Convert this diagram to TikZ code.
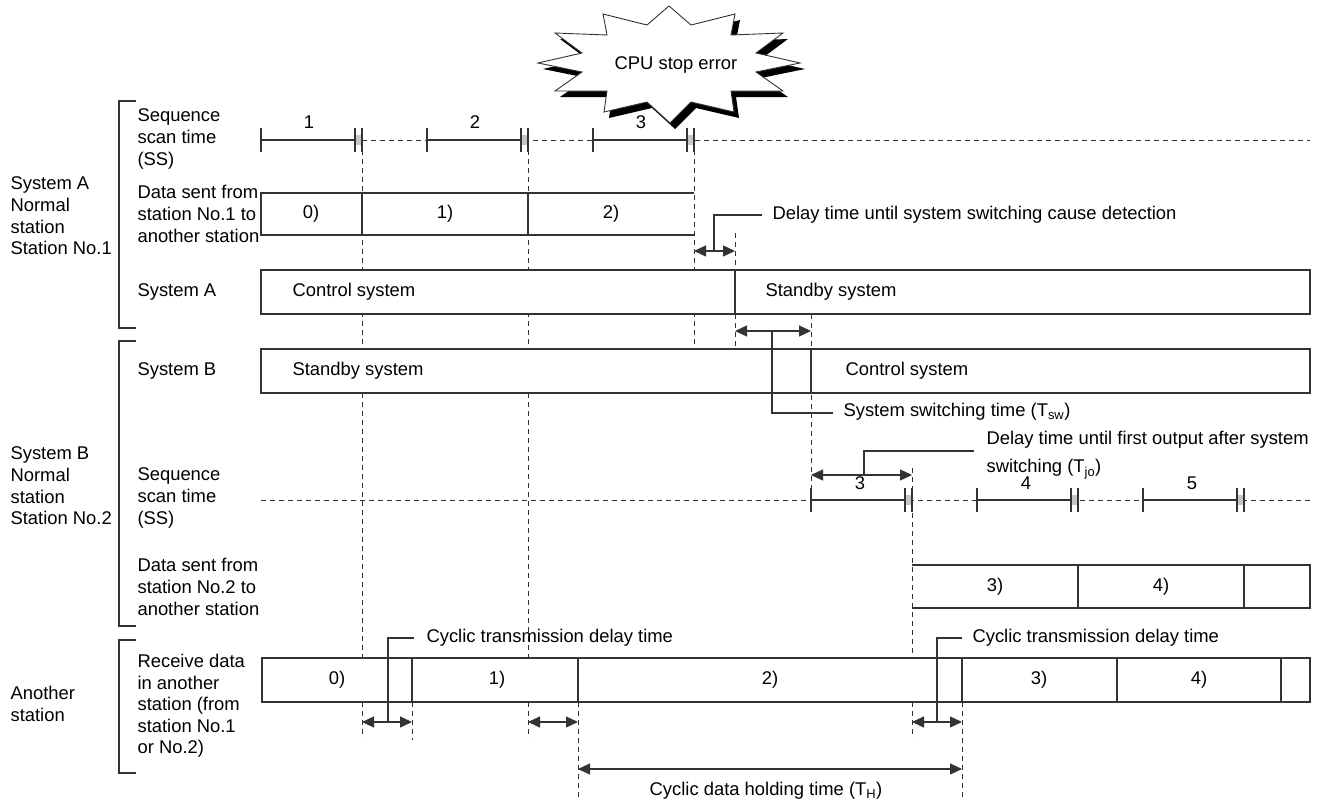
\documentclass[tikz,border=0pt]{standalone}
\usepackage{fontspec}
\setmainfont{Liberation Sans}
\usetikzlibrary{arrows.meta}

\begin{document}
\begin{tikzpicture}[x=1pt, y=-1pt, line width=1.1pt, color=black!80,
    every node/.style={font=\fontsize{18.4}{21.6}\selectfont, inner sep=0pt, text=black},
    etiq/.style={anchor=west, align=left},
    tiret/.style={line width=0.9pt, dash pattern=on 5pt off 4pt},
    fleche/.style={line width=1.2pt, {Triangle[length=12pt,width=11pt]}-{Triangle[length=12pt,width=11pt]}},
    bloc/.style={draw, fill=white}]
    \useasboundingbox (0,0) rectangle (1328,803);
    % Accolades
    \draw (136,101) -- (119,101) -- (119,328) -- (136,328);
    \draw (136,341) -- (119,341) -- (119,626) -- (136,626);
    \draw (136,640) -- (119,640) -- (119,773) -- (136,773);
    % Libelles
    \node[etiq] (sysA) at (10,216) {System A\\Normal\\station\\Station No.1};
    \node[etiq] (sysB) at (10,486) {System B\\Normal\\station\\Station No.2};
    \node[etiq] (autre) at (10,704) {Another\\station};
    \node[etiq] (ssA) at (137,139) {Sequence\\scan time\\(SS)};
    \node[etiq] (envA) at (137,214) {Data sent from\\station No.1 to\\another station};
    \node[etiq] (barA) at (137,292) {System A};
    \node[etiq] (barB) at (137,371) {System B};
    \node[etiq] (ssB) at (137,498) {Sequence\\scan time\\(SS)};
    \node[etiq] (envB) at (137,587) {Data sent from\\station No.2 to\\another station};
    \node[etiq] (recv) at (137,706) {Receive data\\in another\\station (from\\station No.1\\or No.2)};
    % Lignes pointillees verticales
    \draw[tiret] (362,150) -- (362,658) (362,702) -- (362,738);
    \draw[tiret] (528,150) -- (528,658) (528,702) -- (528,738);
    \draw[tiret] (694,150) -- (694,349);
    \draw[tiret] (735,233) -- (735,349);
    \draw[tiret] (811,314) -- (811,488);
    \draw[tiret] (912,468) -- (912,658) (912,702) -- (912,738);
    \draw[tiret] (412,702) -- (412,740);
    \draw[tiret] (578,702) -- (578,800);
    \draw[tiret] (962,702) -- (962,800);
    % Temps de scrutation A
    \draw[tiret] (362,140) -- (1310,140);
    \foreach \s/\n in {261/1, 427/2, 593/3} {
        \draw (\s,128) -- (\s,152) (\s,140) -- (\s+94,140);
        \fill[gray!45] (\s+94,135) rectangle (\s+101,145);
        \draw (\s+94,128) -- (\s+94,152) (\s+101,128) -- (\s+101,152);
        \node (scanA\n) at (\s+48,122) {\n};
    }
    % Temps de scrutation B
    \draw[tiret] (261,500) -- (1310,500);
    \foreach \s/\n in {811/3, 977/4, 1143/5} {
        \draw (\s,488) -- (\s,512) (\s,500) -- (\s+94,500);
        \fill[gray!45] (\s+94,495) rectangle (\s+101,505);
        \draw (\s+94,488) -- (\s+94,512) (\s+101,488) -- (\s+101,512);
        \node (scanB\n) at (\s+49,483) {\n};
    }
    % Donnees envoyees par la station No.1
    \draw (694,193) -- (261,193) -- (261,235) -- (694,235);
    \draw (362,193) -- (362,235) (528,193) -- (528,235);
    \node (dA0) at (311,214) {0)};
    \node (dA1) at (445,214) {1)};
    \node (dA2) at (611,214) {2)};
    % Systeme A et systeme B
    \draw[bloc] (261,270) rectangle (1310,314);
    \draw (735,270) -- (735,314);
    \node[etiq] (ctrlA) at (292,292) {Control system};
    \node[etiq] (stbyA) at (765,292) {Standby system};
    \draw[bloc] (261,349) rectangle (1310,393);
    \draw (811,349) -- (811,393);
    \node[etiq] (stbyB) at (292,371) {Standby system};
    \node[etiq] (ctrlB) at (845,371) {Control system};
    % Donnees envoyees par la station No.2
    \draw (912,565) -- (1310,565) -- (1310,608) -- (912,608);
    \draw (1078,565) -- (1078,608) (1244,565) -- (1244,608);
    \node (dB3) at (995,587) {3)};
    \node (dB4) at (1161,587) {4)};
    % Donnees recues
    \draw[bloc] (262,658) rectangle (1310,702);
    \draw (412,658) -- (412,702) (578,658) -- (578,702) (962,658) -- (962,702)
          (1117,658) -- (1117,702) (1281,658) -- (1281,702);
    \node (r0) at (337,680) {0)};
    \node (r1) at (497,680) {1)};
    \node (r2) at (770,680) {2)};
    \node (r3) at (1039,680) {3)};
    \node (r4) at (1199,680) {4)};
    % Fleches de temps
    \coordinate (dt1) at (694,251);
    \coordinate (dt2) at (735,251);
    \draw[fleche] (dt1) -- (dt2);
    \node[etiq] (tDet) at (772,215) {Delay time until system switching cause detection};
    \draw (714,251) -- (714,215) -- ([xshift=-10pt]tDet.west);
    \coordinate (sw1) at (735,331);
    \coordinate (sw2) at (811,331);
    \draw[fleche] (sw1) -- (sw2);
    \node[etiq] (tSw) at (843,412) {System switching time (T\textsubscript{sw})};
    \draw (772,331) -- (772,413) -- ([xshift=-10pt]tSw.west |- 0,413);
    \coordinate (jo1) at (811,475);
    \coordinate (jo2) at (912,475);
    \draw[fleche] (jo1) -- (jo2);
    \node[etiq] (tJo) at (986,455) {Delay time until first output after system\\[7pt]switching (T\textsubscript{jo})};
    \draw (864,475) -- (864,451) -- (974,451);
    \coordinate (c1) at (362,722);
    \coordinate (c2) at (412,722);
    \draw[fleche] (c1) -- (c2);
    \node[etiq] (tCyc1) at (426,638) {Cyclic transmission delay time};
    \draw (388,722) -- (388,638) -- ([xshift=-12pt]tCyc1.west);
    \coordinate (c3) at (528,722);
    \coordinate (c4) at (578,722);
    \draw[fleche] (c3) -- (c4);
    \coordinate (c5) at (912,722);
    \coordinate (c6) at (962,722);
    \draw[fleche] (c5) -- (c6);
    \node[etiq] (tCyc2) at (972,638) {Cyclic transmission delay time};
    \draw (937,722) -- (937,638) -- ([xshift=-10pt]tCyc2.west);
    \coordinate (h1) at (578,769);
    \coordinate (h2) at (962,769);
    \draw[fleche] (h1) -- (h2);
    \node (tHold) at (766,791) {Cyclic data holding time (T\textsubscript{H})};
    % Explosion
    \draw[line width=0.9pt, fill=white, preaction={fill=black, transform canvas={shift={(5pt,-6pt)}}}]
        (669,6) -- (647,25) -- (603,14) -- (607,35) -- (555,33) -- (582,53) -- (538,63)
        -- (582,72) -- (555,91) -- (607,91) -- (604,112) -- (647,102) -- (670,123)
        -- (691,102) -- (734,112) -- (731,91) -- (783,91) -- (756,72) -- (800,63)
        -- (756,53) -- (783,33) -- (731,35) -- (735,14) -- (691,25) -- cycle;
    \node (cpu) at (676,65) {CPU stop error};
\end{tikzpicture}
\end{document}
